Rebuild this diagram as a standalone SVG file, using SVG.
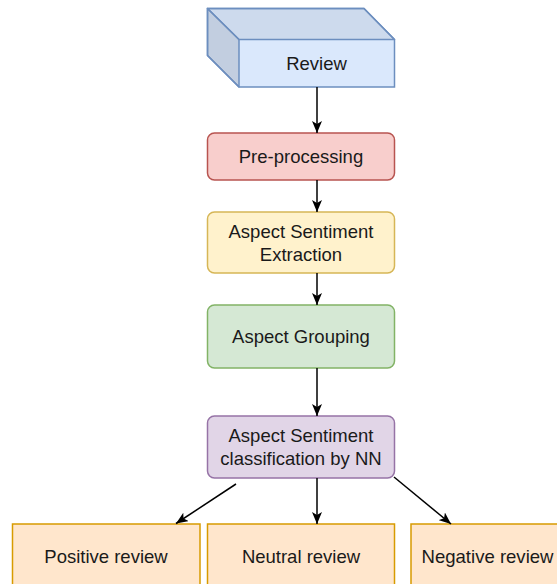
<svg xmlns="http://www.w3.org/2000/svg" width="557" height="584" viewBox="0 0 557 584">
<style>
text{font-family:"Liberation Sans",Arial,sans-serif;font-size:18.5px;fill:#1a1a1a;text-anchor:middle}
.box{stroke-width:1.5}
.blue{fill:#dae8fc;stroke:#6c8ebf}
.red{fill:#f8cecc;stroke:#b85450}
.yellow{fill:#fff2cc;stroke:#d6b656}
.green{fill:#d5e8d4;stroke:#82b366}
.purple{fill:#e1d5e7;stroke:#9673a6}
.orange{fill:#ffe6cc;stroke:#d79b00}
.edge{stroke:#000;stroke-width:1.5;fill:none;marker-end:url(#arr)}
</style>
<defs>
<marker id="arr" viewBox="0 0 12 10" refX="12" refY="5" markerWidth="12" markerHeight="10" markerUnits="userSpaceOnUse" orient="auto">
<path d="M0,0 L12,5 L0,10 L3,5 Z" fill="#000"/>
</marker>
</defs>
<g id="review">
<path class="box blue" d="M207.5,8.5 L364,8.5 L394.5,39.5 L394.5,87 L239,87 L207.5,55.5 Z"/>
<path d="M207.5,8.5 L364,8.5 L394.5,39.5 L239,39.5 Z" fill="#000" fill-opacity="0.06" stroke="#6c8ebf" stroke-width="1.5" stroke-linejoin="round"/>
<path d="M207.5,8.5 L239,39.5 L239,87 L207.5,55.5 Z" fill="#000" fill-opacity="0.11" stroke="#6c8ebf" stroke-width="1.5" stroke-linejoin="round"/>
<text x="316.5" y="70">Review</text>
</g>
<g id="preprocessing">
<rect class="box red" x="207.5" y="133" width="187" height="47" rx="7"/>
<text x="301" y="163">Pre-processing</text>
</g>
<g id="extraction">
<rect class="box yellow" x="207.5" y="212" width="187" height="61" rx="7"/>
<text x="301" y="237.5">Aspect Sentiment</text>
<text x="301" y="260.5">Extraction</text>
</g>
<g id="grouping">
<rect class="box green" x="207.5" y="305" width="187" height="63" rx="7"/>
<text x="301" y="343">Aspect Grouping</text>
</g>
<g id="classification">
<rect class="box purple" x="207.5" y="416" width="187" height="62" rx="7"/>
<text x="301" y="442">Aspect Sentiment</text>
<text x="301" y="465">classification by NN</text>
</g>
<g id="positive">
<rect class="box orange" x="12.5" y="524" width="187.5" height="80"/>
<text x="106" y="563">Positive review</text>
</g>
<g id="neutral">
<rect class="box orange" x="207.5" y="524" width="187" height="80"/>
<text x="301" y="563">Neutral review</text>
</g>
<g id="negative">
<rect class="box orange" x="411" y="524" width="187" height="80"/>
<text x="487.5" y="563" textLength="132" lengthAdjust="spacingAndGlyphs">Negative review</text>
</g>
<g id="connectors">
<line class="edge" x1="317" y1="87" x2="317" y2="133"/>
<line class="edge" x1="317" y1="180" x2="317" y2="212"/>
<line class="edge" x1="317" y1="273" x2="317" y2="305"/>
<line class="edge" x1="317" y1="368" x2="317" y2="416"/>
<line class="edge" x1="236" y1="484" x2="176" y2="523.5"/>
<line class="edge" x1="317" y1="478" x2="317" y2="524"/>
<line class="edge" x1="394" y1="477" x2="451" y2="524"/>
</g>
</svg>
